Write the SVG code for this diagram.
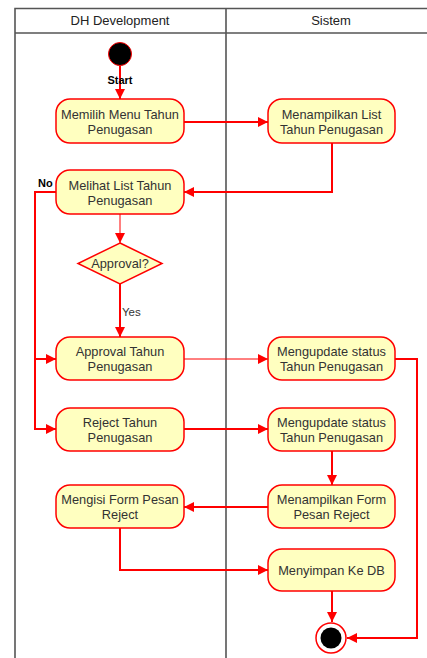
<svg xmlns="http://www.w3.org/2000/svg" width="427" height="658" viewBox="0 0 427 658">
  <style>
    .lane { fill: none; stroke: #555; stroke-width: 1.6; }
    .hdr { font-family: "Liberation Sans", Arial, sans-serif; font-size: 13px; fill: #222; text-anchor: middle; }
    .act rect, .act polygon { fill: #ffffc0; stroke: #ff0000; stroke-width: 1.5; }
    .act text { font-family: "Liberation Sans", Arial, sans-serif; font-size: 12.8px; fill: #333; text-anchor: middle; }
    .edge { fill: none; stroke: #ff0000; stroke-width: 2; }
    .thin { stroke-width: 1; }
    .lbl { font-family: "Liberation Sans", Arial, sans-serif; font-size: 11px; fill: #000; font-weight: bold; }
    .ylbl { font-family: "Liberation Sans", Arial, sans-serif; font-size: 11.5px; fill: #333; }
  </style>
  <defs>
    <marker id="arrow" viewBox="0 0 10 10" refX="10" refY="5" markerWidth="5" markerHeight="5" markerUnits="strokeWidth" orient="auto">
      <path d="M0,0 L10,5 L0,10 Z" fill="#ff0000"/>
    </marker>
    <marker id="arrowThin" viewBox="0 0 10 10" refX="10" refY="5" markerWidth="10" markerHeight="10" markerUnits="strokeWidth" orient="auto">
      <path d="M0,0 L10,5 L0,10 Z" fill="#ff0000"/>
    </marker>
  </defs>

  <rect width="427" height="658" fill="#ffffff"/>

  <!-- swimlanes -->
  <g id="lanes">
    <path class="lane" d="M15,670 L15,8.5 L430,8.5 M15,33 L430,33 M226,8.5 L226,670"/>
    <text class="hdr" x="120" y="25">DH Development</text>
    <text class="hdr" x="331" y="25">Sistem</text>
  </g>

  <!-- connectors -->
  <g id="connectors">
    <path class="edge" d="M120,66 L120,99" marker-end="url(#arrow)"/>
    <path class="edge" d="M184,122 L268,122" marker-end="url(#arrow)"/>
    <path class="edge" d="M332,143 L332,192 L184,192" marker-end="url(#arrow)"/>
    <path class="edge thin" d="M120,214 L120,243" marker-end="url(#arrowThin)"/>
    <path class="edge" d="M120,284 L120,337" marker-end="url(#arrow)"/>
    <path class="edge" d="M56,192 L35,192 L35,429 L56,429" marker-end="url(#arrow)"/>
    <path class="edge" d="M35,359 L56,359" marker-end="url(#arrow)"/>
    <path class="edge thin" d="M184,359 L268,359" marker-end="url(#arrowThin)"/>
    <path class="edge" d="M184,429 L268,429" marker-end="url(#arrow)"/>
    <path class="edge" d="M395,359 L417,359 L417,638 L347,638" marker-end="url(#arrow)"/>
    <path class="edge" d="M332,451 L332,485" marker-end="url(#arrow)"/>
    <path class="edge" d="M268,507 L184,507" marker-end="url(#arrow)"/>
    <path class="edge" d="M120,528 L120,570 L268,570" marker-end="url(#arrow)"/>
    <path class="edge" d="M332,591 L332,622" marker-end="url(#arrow)"/>
    <text class="lbl" x="38" y="187">No</text>
    <text class="ylbl" x="122" y="316">Yes</text>
  </g>

  <!-- start -->
  <g id="start">
    <circle cx="120" cy="54" r="11.5" fill="#000" stroke="#ff0000" stroke-width="1"/>
    <text class="lbl" x="120" y="84" text-anchor="middle" font-size="12px">Start</text>
  </g>

  <g id="memilih" class="act">
    <rect x="56" y="99" width="128" height="44" rx="14"/>
    <text x="120" y="119">Memilih Menu Tahun</text>
    <text x="120" y="133.5">Penugasan</text>
  </g>

  <g id="menampilkanList" class="act">
    <rect x="268" y="99" width="127" height="44" rx="14"/>
    <text x="331.5" y="119">Menampilkan List</text>
    <text x="331.5" y="133.5">Tahun Penugasan</text>
  </g>

  <g id="melihat" class="act">
    <rect x="56" y="170" width="128" height="44" rx="14"/>
    <text x="120" y="190">Melihat List Tahun</text>
    <text x="120" y="204.5">Penugasan</text>
  </g>

  <g id="approvalDecision" class="act">
    <polygon points="120,243 162,263.5 120,284 78,263.5"/>
    <text x="120" y="268">Approval?</text>
  </g>

  <g id="approval" class="act">
    <rect x="56" y="337" width="128" height="43" rx="14"/>
    <text x="120" y="356">Approval Tahun</text>
    <text x="120" y="370.5">Penugasan</text>
  </g>

  <g id="updateApproval" class="act">
    <rect x="268" y="337" width="127" height="43" rx="14"/>
    <text x="331.5" y="356">Mengupdate status</text>
    <text x="331.5" y="370.5">Tahun Penugasan</text>
  </g>

  <g id="reject" class="act">
    <rect x="56" y="408" width="128" height="43" rx="14"/>
    <text x="120" y="427">Reject Tahun</text>
    <text x="120" y="441.5">Penugasan</text>
  </g>

  <g id="updateReject" class="act">
    <rect x="268" y="408" width="127" height="43" rx="14"/>
    <text x="331.5" y="427">Mengupdate status</text>
    <text x="331.5" y="441.5">Tahun Penugasan</text>
  </g>

  <g id="menampilkanForm" class="act">
    <rect x="268" y="485" width="127" height="43" rx="14"/>
    <text x="331.5" y="504">Menampilkan Form</text>
    <text x="331.5" y="518.5">Pesan Reject</text>
  </g>

  <g id="mengisiForm" class="act">
    <rect x="56" y="485" width="128" height="43" rx="14"/>
    <text x="120" y="504">Mengisi Form Pesan</text>
    <text x="120" y="518.5">Reject</text>
  </g>

  <g id="menyimpan" class="act">
    <rect x="268" y="549" width="127" height="42" rx="14"/>
    <text x="331.5" y="574.5">Menyimpan Ke DB</text>
  </g>

  <!-- end -->
  <g id="end">
    <circle cx="331" cy="638" r="15" fill="#fff" stroke="#ff0000" stroke-width="1.5"/>
    <circle cx="331" cy="638" r="10.5" fill="#000"/>
  </g>
</svg>
